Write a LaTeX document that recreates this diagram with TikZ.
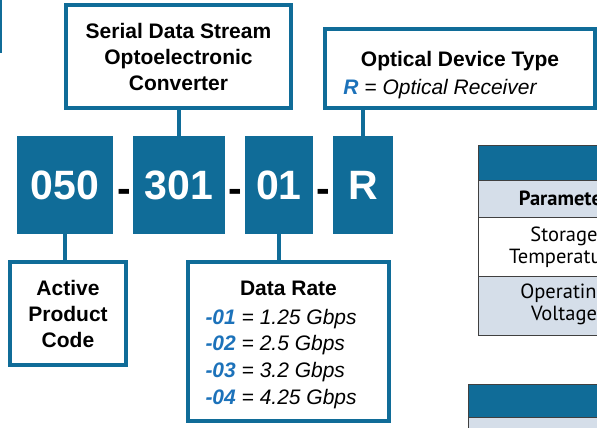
\documentclass[tikz,border=0pt]{standalone}
\usepackage{fontspec}
\setmainfont{Liberation Sans}
\newfontfamily\tablefont{PT Sans}
\usetikzlibrary{positioning, calc}
\definecolor{boxblue}{RGB}{16,108,152}
\definecolor{codeblue}{RGB}{28,114,186}
\definecolor{rowlight}{RGB}{213,222,233}
\definecolor{gridgray}{RGB}{64,64,64}
\tikzset{
  codebox/.style={
    rectangle, fill=boxblue, text=white, inner sep=0pt,
    minimum height=98pt, font=\fontsize{41}{41}\selectfont\bfseries
  },
  sep/.style={
    anchor=base, inner sep=0pt, text=black,
    font=\fontsize{41}{41}\selectfont\bfseries
  },
  labelbox/.style={
    rectangle, draw=boxblue, line width=4pt, fill=white, align=center,
    inner sep=0pt, font=\fontsize{21}{26}\selectfont\bfseries
  },
  link/.style={draw=boxblue, line width=4pt},
  tabtext/.style={align=center, inner sep=0pt, font=\tablefont\fontsize{20.5}{22}\selectfont}
}
\newcommand{\ratecode}[2]{\hspace*{-13pt}\makebox[153pt][l]{%
  \textcolor{codeblue}{\bfseries\itshape -#1} {\itshape = #2 Gbps}}}

\begin{document}
\begin{tikzpicture}[x=1pt, y=-1pt]
  \useasboundingbox (0,0) rectangle (597,428);
  \clip (0,0) rectangle (597,428);

  % ── Part number blocks ───────────────────────────────────────────
  \node[codebox, minimum width=96pt] (c050) at (65,185)  {050};
  \node[codebox, minimum width=92pt] (c301) at (179,185) {301};
  \node[codebox, minimum width=68pt] (c01)  at (279,185) {01};
  \node[codebox, minimum width=60pt] (cR)   at (363,185) {R};

  \node[sep] (dashA) at (124,202)   {-};
  \node[sep] (dashB) at (235,202)   {-};
  \node[sep] (dashC) at (323.5,202) {-};

  % ── Label boxes ──────────────────────────────────────────────────
  \node[labelbox, minimum width=225pt, minimum height=103pt] (conv)
    at (178.5,56.5) {Serial Data Stream\\Optoelectronic\\Converter};
  \node[labelbox, minimum width=270pt, minimum height=79pt] (dtype)
    at (460,68.5) {\rule{0pt}{29pt}Optical Device Type\\[2pt]
      \textcolor{codeblue}{\itshape R} {\mdseries\itshape = Optical Receiver}\hspace*{40pt}};
  \node[labelbox, minimum width=201pt, minimum height=159pt] (rate)
    at (288.5,341.5) {\rule{0pt}{21pt}Data Rate\\[3pt]
      \mdseries\ratecode{01}{1.25}\\[0.7pt] \mdseries\ratecode{02}{2.5}\\[0.7pt]
      \mdseries\ratecode{03}{3.2}\\[0.7pt] \mdseries\ratecode{04}{4.25}};
  \node[labelbox, minimum width=116pt, minimum height=103pt] (active)
    at (68,313.5) {Active\\Product\\Code};

  % ── Connections ──────────────────────────────────────────────────
  \draw[link] (conv.south -| c301)  -- (c301.north);
  \draw[link] (dtype.south -| cR)   -- (cR.north);
  \draw[link] (c050.south) -- (active.north -| c050);
  \draw[link] (c01.south)  -- (rate.north -| c01);

  % ── Cut-off pieces at the edges ──────────────────────────────────
  \draw[boxblue, line width=3.4pt] (0,0) -- (0,53);

  \fill[boxblue]  (478,145) rectangle (640,180);
  \fill[rowlight] (478,180) rectangle (640,217);
  \fill[rowlight] (478,276) rectangle (640,335);
  \draw[gridgray, line width=1pt] (478,145) rectangle (640,335);
  \foreach \yy in {180,217,276}
    \draw[gridgray, line width=1pt] (478,\yy) -- (640,\yy);
  \node[tabtext, font=\tablefont\fontsize{20.5}{22}\selectfont\bfseries] (param)
    at (564,198) {Parameter};
  \node[tabtext] (storage) at (564,247.5) {Storage\\Temperature};
  \node[tabtext] (operate) at (564,304)   {Operating\\Voltage};

  \fill[boxblue]  (468,384) rectangle (640,417);
  \fill[rowlight] (468,417) rectangle (640,440);
  \draw[gridgray, line width=1pt] (468,384) rectangle (640,440);
  \draw[gridgray, line width=1pt] (468,417) -- (640,417);
\end{tikzpicture}
\end{document}
